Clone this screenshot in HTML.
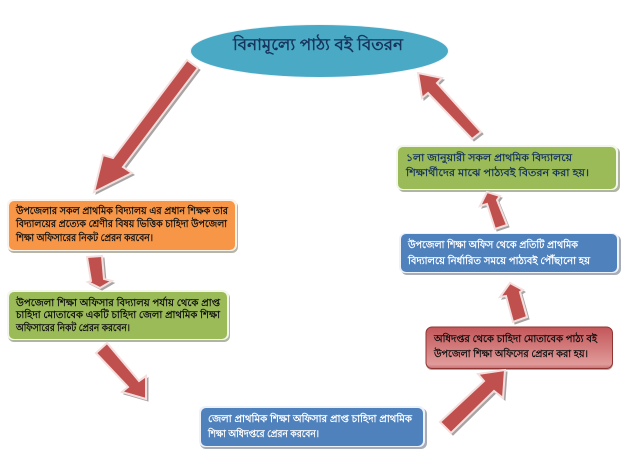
<!DOCTYPE html>
<html lang="bn">
<head>
<meta charset="utf-8">
<style>
html,body{margin:0;padding:0;background:#fff;width:626px;height:457px;overflow:hidden}
svg{display:block}
text{font-family:"Liberation Sans","Noto Sans CJK SC",sans-serif;font-size:10px;font-weight:bold}
</style>
</head>
<body>
<svg width="626" height="457" viewBox="0 0 626 457" xmlns="http://www.w3.org/2000/svg">
<defs>
<linearGradient id="rg" x1="0" y1="0" x2="0" y2="1">
<stop offset="0" stop-color="#c4575a"/>
<stop offset=".5" stop-color="#d37b7c"/>
<stop offset=".9" stop-color="#e09b9a"/>
<stop offset="1" stop-color="#c96f6f"/>
</linearGradient>
</defs>

<!-- ellipse -->
<ellipse cx="319.5" cy="51" rx="130" ry="27" fill="#f3f8fa"/>
<ellipse cx="319.5" cy="51" rx="128.500" ry="26" fill="#4aaac6"/>

<!-- boxes: shadow + white bevel + fill -->
<g>
<rect x="8" y="201" width="230" height="52" rx="6" fill="#b5b5a8"/>
<rect x="7" y="199" width="230" height="52" rx="6" fill="#fbf3ea"/>
<rect x="9" y="201" width="226" height="49" rx="5" fill="#f79646"/>

<rect x="8" y="292" width="222" height="50" rx="6" fill="#aeb5a0"/>
<rect x="7" y="290" width="222" height="50" rx="6" fill="#f3f7ea"/>
<rect x="9" y="292" width="218" height="47" rx="5" fill="#9bbb59"/>

<rect x="398" y="147" width="222" height="45" rx="6" fill="#aeb5a0"/>
<rect x="396" y="145" width="222" height="45" rx="6" fill="#f3f7ea"/>
<rect x="398" y="147" width="218" height="42" rx="5" fill="#9bbb59"/>

<rect x="401" y="235" width="220" height="40" rx="6" fill="#a6adb8"/>
<rect x="399" y="233" width="220" height="40" rx="6" fill="#edf2f8"/>
<rect x="401" y="234" width="216" height="38" rx="5" fill="#4f81bd"/>

<rect x="200" y="408" width="227" height="41" rx="6" fill="#a6adb8"/>
<rect x="199" y="406" width="226" height="41" rx="6" fill="#edf2f8"/>
<rect x="201" y="408" width="222" height="38" rx="5" fill="#4f81bd"/>

<rect x="426" y="328" width="187" height="42" rx="6" fill="#c9a0a0"/>
<rect x="426" y="327" width="186.500" height="41.500" rx="6" fill="url(#rg)" stroke="#8f3534" stroke-width="1"/>
</g>

<!-- arrows -->
<g fill="#a9a4a4" transform="translate(2,2)" stroke="#a9a4a4" stroke-width="1">
<polygon points="187,60 198,68 123,167 132,173 94,192 103,155 113,158"/>
<polygon points="87,257 102,256 104,279 112,281 100,288 88,282 91,281"/>
<polygon points="96,353 107,343 139,381 146,376 146,399 122,392 128,387"/>
<polygon points="440,422 451,433 494,391 503,398 505,370 478,374 484,381"/>
<polygon points="510,283 523,290 520,292 527,317 513,322 506,296 500,297"/>
<polygon points="487,192 500,196 497,200 507,225 495,229 487,204 480,206"/>
<polygon points="418,73 442,78 437,83 481,132 472,139 428,93 422,98"/>
</g>
<g fill="#c0504d" stroke="#f4dfde" stroke-width="2" stroke-linejoin="miter">
<polygon points="187,60 198,68 123,167 132,173 94,192 103,155 113,158"/>
<polygon points="87,257 102,256 104,279 112,281 100,288 88,282 91,281"/>
<polygon points="96,353 107,343 139,381 146,376 146,399 122,392 128,387"/>
<polygon points="440,422 451,433 494,391 503,398 505,370 478,374 484,381"/>
<polygon points="510,283 523,290 520,292 527,317 513,322 506,296 500,297"/>
<polygon points="487,192 500,196 497,200 507,225 495,229 487,204 480,206"/>
<polygon points="418,73 442,78 437,83 481,132 472,139 428,93 422,98"/>
</g>

<!-- text -->
<text x="233" y="50" textLength="170" lengthAdjust="spacingAndGlyphs" fill="#17365d" style="font-size:16px">বিনামূল্যে পাঠ্য বই বিতরন</text>

<g fill="#111">
<text x="16" y="214" textLength="212" lengthAdjust="spacingAndGlyphs">উপজেলার সকল প্রাথমিক বিদ্যালয় এর প্রধান শিক্ষক তার</text>
<text x="16" y="227" textLength="211" lengthAdjust="spacingAndGlyphs">বিদ্যালয়ের প্রত্যেক শ্রেণীর বিষয় ভিত্তিক চাহিদা উপজেলা</text>
<text x="16" y="241" textLength="137" lengthAdjust="spacingAndGlyphs">শিক্ষা অফিসারের নিকট প্রেরন করবেন।</text>

<text x="16" y="306" textLength="204" lengthAdjust="spacingAndGlyphs">উপজেলা শিক্ষা অফিসার বিদ্যালয় পর্যায় থেকে প্রাপ্ত</text>
<text x="16" y="318" textLength="204" lengthAdjust="spacingAndGlyphs">চাহিদা মোতাবেক একটি চাহিদা জেলা প্রাথমিক শিক্ষা</text>
<text x="16" y="331" textLength="114" lengthAdjust="spacingAndGlyphs">অফিসারের নিকট প্রেরন করবেন।</text>

<text x="434" y="342" textLength="163" lengthAdjust="spacingAndGlyphs">অধিদপ্তর থেকে চাহিদা মোতাবেক পাঠ্য বই</text>
<text x="434" y="357" textLength="154" lengthAdjust="spacingAndGlyphs">উপজেলা শিক্ষা অফিসের প্রেরন করা হয়।</text>
</g>

<g fill="#17365d">
<text x="406" y="161" textLength="166" lengthAdjust="spacingAndGlyphs">১লা জানুয়ারী সকল প্রাথমিক বিদ্যালয়ে</text>
<text x="406" y="176" textLength="183" lengthAdjust="spacingAndGlyphs">শিক্ষার্থীদের মাঝে পাঠ্যবই বিতরন করা হয়।</text>
</g>

<g fill="#fff">
<text x="408" y="248" textLength="170" lengthAdjust="spacingAndGlyphs">উপজেলা শিক্ষা অফিস থেকে প্রতিটি প্রাথমিক</text>
<text x="408" y="264" textLength="182" lengthAdjust="spacingAndGlyphs">বিদ্যালয়ে নির্ধারিত সময়ে পাঠ্যবই পৌঁছানো হয়</text>
<text x="208" y="422" textLength="204" lengthAdjust="spacingAndGlyphs">জেলা প্রাথমিক শিক্ষা অফিসার প্রাপ্ত চাহিদা  প্রাথমিক</text>
<text x="208" y="437" textLength="111" lengthAdjust="spacingAndGlyphs">শিক্ষা অধিদপ্তরে প্রেরন করবেন।</text>
</g>
</svg>
</body>
</html>
